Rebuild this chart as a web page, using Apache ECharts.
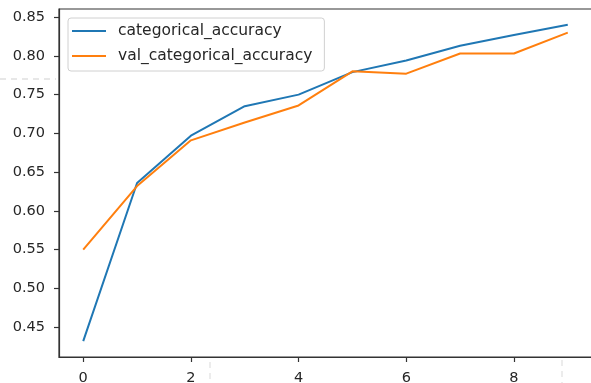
<!DOCTYPE html>
<html>
<head>
<meta charset="utf-8">
<script src="https://cdn.jsdelivr.net/npm/echarts@6/dist/echarts.min.js"></script>
<style>
  html, body { margin: 0; padding: 0; background: #ffffff; }
  #chart { width: 591px; height: 383px; }
</style>
</head>
<body>
<div id="chart"></div>
<script>
// Training history: accuracy per epoch
const epochs = [0, 1, 2, 3, 4, 5, 6, 7, 8, 9];
const categoricalAccuracy = [0.432, 0.636, 0.697, 0.735, 0.750, 0.779, 0.794, 0.813, 0.827, 0.840];
const valCategoricalAccuracy = [0.550, 0.632, 0.691, 0.714, 0.736, 0.780, 0.777, 0.803, 0.803, 0.830];
const xTicks = [0, 2, 4, 6, 8];
const yTicks = [0.45, 0.50, 0.55, 0.60, 0.65, 0.70, 0.75, 0.80, 0.85];

const FONT = 'DejaVu Sans';
const INK = '#262626';
const SPINE = '#333333';

// axis limits with a 5% margin around the data, as in the usual matplotlib defaults
function paddedRange(values, frac) {
  const lo = Math.min(...values), hi = Math.max(...values);
  const pad = (hi - lo) * frac;
  return [lo - pad, hi + pad];
}
const [xMin, xMax] = paddedRange(epochs, 0.05);
const [yMin, yMax] = paddedRange(categoricalAccuracy.concat(valCategoricalAccuracy), 0.05);

const pairs = (xs, ys) => xs.map((x, i) => [x, ys[i]]);
const LINE_ICON = 'path://M0,0H34V2H0Z';

const chart = echarts.init(document.getElementById('chart'), null, { renderer: 'canvas' });
chart.setOption({
  animation: false,
  backgroundColor: '#ffffff',
  grid: {
    left: 59, top: 9, width: 533, height: 348,
    outerBoundsMode: 'none', containLabel: false,
    show: true, borderColor: SPINE, borderWidth: 1.2
  },
  xAxis: {
    type: 'value', min: xMin, max: xMax,
    splitLine: { show: false },
    axisLine: { show: true, onZero: false, lineStyle: { color: SPINE, width: 1.2 } },
    axisTick: { show: true, inside: false, length: 5, customValues: xTicks,
                lineStyle: { color: SPINE, width: 1.2 } },
    axisLabel: { customValues: xTicks, margin: 14, color: INK,
                 fontFamily: FONT, fontSize: 14.5 }
  },
  yAxis: {
    type: 'value', min: yMin, max: yMax,
    splitLine: { show: false },
    axisLine: { show: true, onZero: false, lineStyle: { color: SPINE, width: 1.2 } },
    axisTick: { show: true, inside: false, length: 5, customValues: yTicks,
                lineStyle: { color: SPINE, width: 1.2 } },
    axisLabel: { customValues: yTicks, margin: 14, color: INK,
                 fontFamily: FONT, fontSize: 14.5,
                 formatter: v => v.toFixed(2) }
  },
  legend: {
    orient: 'vertical', left: 68, top: 18,
    padding: [4, 12, 6, 4], itemGap: 7,
    itemWidth: 34, itemHeight: 14,
    backgroundColor: '#ffffff',
    borderColor: '#d0d0d0', borderWidth: 1, borderRadius: 3,
    textStyle: { fontFamily: FONT, fontSize: 15.5, lineHeight: 18, color: INK,
                 padding: [0, 0, 0, 7] },
    data: [
      { name: 'categorical_accuracy', icon: LINE_ICON },
      { name: 'val_categorical_accuracy', icon: LINE_ICON }
    ]
  },
  series: [
    {
      name: 'categorical_accuracy', type: 'line', symbol: 'none',
      data: pairs(epochs, categoricalAccuracy),
      lineStyle: { color: '#1f77b4', width: 2 }, itemStyle: { color: '#1f77b4' }
    },
    {
      name: 'val_categorical_accuracy', type: 'line', symbol: 'none',
      data: pairs(epochs, valCategoricalAccuracy),
      lineStyle: { color: '#ff7f0e', width: 2 }, itemStyle: { color: '#ff7f0e' }
    }
  ],
  // faint notebook guide lines around the figure
  graphic: [
    { type: 'line', shape: { x1: 0, y1: 79, x2: 56, y2: 79 },
      style: { stroke: '#e0e0e0', lineWidth: 1.5, lineDash: [6, 5] }, silent: true },
    { type: 'line', shape: { x1: 210, y1: 362, x2: 210, y2: 383 },
      style: { stroke: '#e6e6e6', lineWidth: 1.5, lineDash: [6, 5] }, silent: true },
    { type: 'line', shape: { x1: 562, y1: 360, x2: 562, y2: 383 },
      style: { stroke: '#e6e6e6', lineWidth: 1.5, lineDash: [6, 5] }, silent: true }
  ]
});
</script>
</body>
</html>
